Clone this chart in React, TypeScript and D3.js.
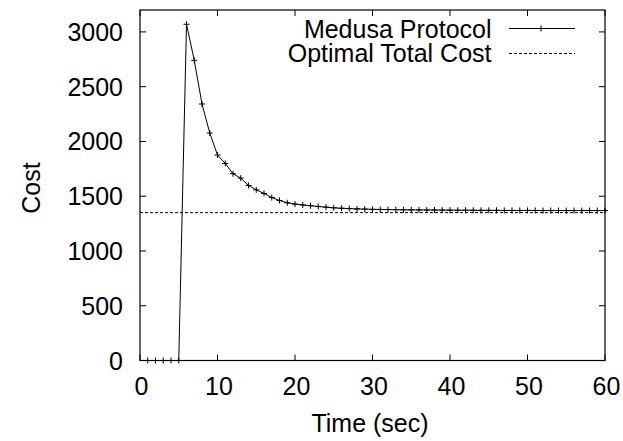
import React from "react";
import * as d3 from "d3";

const times = [1,2,3,4,5,6,7,8,9,10,11,12,13,14,15,16,17,18,19,20,21,22,23,24,25,26,27,28,29,30,31,32,33,34,35,36,37,38,39,40,41,42,43,44,45,46,47,48,49,50,51,52,53,54,55,56,57,58,59,60];
const medusaCost = [0,0,0,0,0,3070,2740,2342,2077,1876,1799,1705,1665,1598,1558,1525,1488,1461,1440,1428,1420,1413,1406,1400,1394,1390,1387,1384,1382,1380,1379,1378,1377,1376,1375,1375,1374,1374,1373,1373,1372,1372,1372,1371,1371,1371,1370,1370,1370,1370,1370,1369,1369,1369,1369,1369,1369,1369,1369,1369];
const optimalCost = 1350;
const xTicks = [0,10,20,30,40,50,60];
const yTicks = [0,500,1000,1500,2000,2500,3000];
const seriesNames = ["Medusa Protocol", "Optimal Total Cost"];

const W = 623, H = 441;
const left = 140, right = 605, top = 10, bottom = 360.5;
const FONT = "'Liberation Sans', Arial, Helvetica, sans-serif";
const FS = 25;

export default function App() {
  const x = d3.scaleLinear().domain([0, 60]).range([left, right]);
  const y = d3.scaleLinear().domain([0, 3200]).range([bottom, top]);
  const pts = times.map((t, i) => [t, medusaCost[i]] as [number, number]);
  const line = d3.line<[number, number]>().x(d => x(d[0])).y(d => y(d[1]));
  const tl = 6;
  const plus = (cx: number, cy: number, k: string | number) => (
    <path key={k} d={`M${cx - 3},${cy}H${cx + 3}M${cx},${cy - 3}V${cy + 3}`} stroke="#000" strokeWidth={1} fill="none" />
  );
  return (
    <svg width={W} height={H} style={{ position: "absolute", left: 0, top: 0, background: "#fff" }} fontFamily={FONT}>
      <rect x={0} y={0} width={W} height={H} fill="#fff" />
      {xTicks.map(t => (
        <g key={"xt" + t}>
          <line x1={x(t)} x2={x(t)} y1={bottom} y2={bottom - tl} stroke="#000" />
          <line x1={x(t)} x2={x(t)} y1={top} y2={top + tl} stroke="#000" />
          <text x={x(t) + 1.5} y={395} textAnchor="middle" fontSize={FS}>{t}</text>
        </g>
      ))}
      {yTicks.map(t => (
        <g key={"yt" + t}>
          <line x1={left} x2={left + tl} y1={y(t)} y2={y(t)} stroke="#000" />
          <line x1={right} x2={right - tl} y1={y(t)} y2={y(t)} stroke="#000" />
          <text x={123} y={y(t) + 9} textAnchor="end" fontSize={FS}>{t}</text>
        </g>
      ))}
      <line x1={left} x2={right} y1={y(optimalCost)} y2={y(optimalCost)} stroke="#000" strokeWidth={1} strokeDasharray="3,2" />
      <path d={line(pts) || ""} fill="none" stroke="#000" strokeWidth={1} />
      {pts.map((p, i) => plus(x(p[0]), y(p[1]), i))}
      <rect x={left} y={top} width={right - left} height={bottom - top} fill="none" stroke="#000" strokeWidth={1.2} />
      <text x={491.5} y={37.5} textAnchor="end" fontSize={FS}>{seriesNames[0]}</text>
      <line x1={509} x2={575} y1={28.5} y2={28.5} stroke="#000" />
      {plus(541, 28.5, "lg")}
      <text x={491.5} y={61.5} textAnchor="end" fontSize={FS}>{seriesNames[1]}</text>
      <line x1={509} x2={575} y1={53.5} y2={53.5} stroke="#000" strokeDasharray="3,2" />
      <text x={370} y={431.5} textAnchor="middle" fontSize={FS}>Time (sec)</text>
      <text transform={`translate(40,188) rotate(-90)`} textAnchor="middle" fontSize={FS}>Cost</text>
    </svg>
  );
}
